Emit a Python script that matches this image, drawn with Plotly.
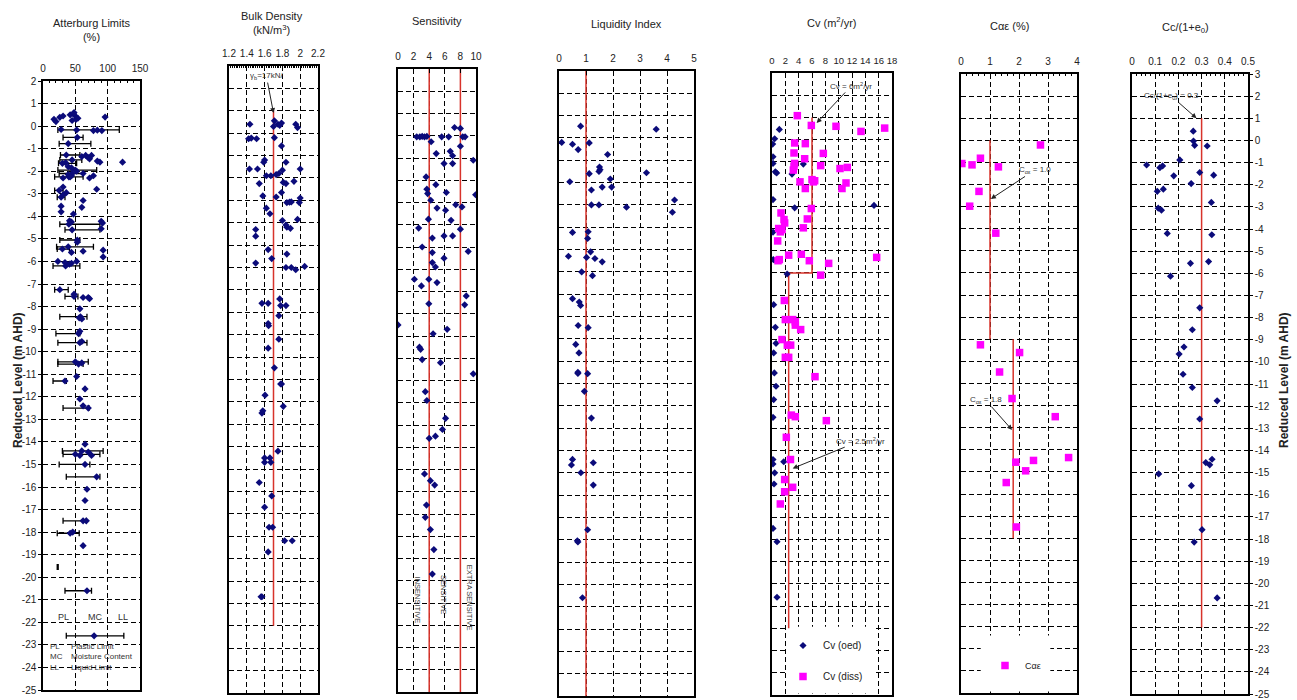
import plotly.graph_objects as go

# ---------------- data ----------------
# Atterberg limits: moisture content points without PL-LL range
at_depth = [0.2, 0.3, 0.39, 0.45, 0.5, 0.55, 0.45, 0.35, 0.25, 0.3, 0.6, 0.4,
            -0.15, -0.2, -0.18, -0.2,
            -1.35, -1.3, -1.3, -1.4, -1.45, -1.6, -1.55, -1.6, -1.62,
            -1.8, -1.85, -2.0, -2.1, -2.2, -2.3, -2.2, -2.15, -2.3, -2.25,
            -2.8, -2.7, -2.95, -3.05, -3.3, -3.6, -3.55, -3.8, -3.9,
            -4.2, -4.25, -4.22, -4.3, -4.55,
            -5.15, -5.5, -5.55, -5.6, -5.8,
            -6.0, -6.05, -6.08, -6.0, -6.12,
            -7.6, -7.6, -7.65, -7.45,
            -8.1, -8.5, -8.55, -9.1, -9.55,
            -10.5, -11.1, -11.65, -12.1, -12.4,
            -14.1, -14.45, -14.6, -14.6,
            -16.1, -16.6, -17.5, -18.0, -18.6]
at_mc = [20, 17, 26, 31, 42, 47, 50, 54, 45, 51, 48, 96,
         28, 78, 84, 91,
         60, 66, 75, 70, 72, 88, 84, 123, 35,
         39, 44, 52, 62, 78, 72, 44, 39, 31, 42,
         83, 31, 36, 31, 62, 60, 28, 28, 47,
         41, 44, 90, 92, 90,
         53, 93, 62, 44, 93,
         23, 34, 44, 52, 41,
         62, 70, 72, 48,
         57, 56, 60, 57, 60,
         60, 52, 65, 57, 62,
         65, 70, 75, 57,
         68, 65, 67, 46, 62]
# Atterberg limits with PL - LL range
atb_depth = [-0.17, -0.5, -0.78, -1.28, -1.5, -1.65, -1.95, -2.1, -2.25, -2.85, -3.15,
             -4.35, -4.6, -5.05, -5.35, -5.45, -6.2, -7.25, -7.55, -8.45, -9.2, -9.6,
             -10.45, -10.55, -11.3, -12.5, -14.4, -14.55, -15.0, -15.55, -17.5, -18.05, -20.6]
atb_pl = [23, 31, 25, 27, 26, 24, 23, 25, 18, 18, 22,
          26, 34, 26, 21, 22, 15.5, 18, 34, 26, 20, 23,
          23, 23, 15.5, 31, 30, 31, 25, 36, 31, 22, 34]
atb_mc = [52, 53, 39, 36, 45, 30, 50, 45, 40, 25, 28,
          40, 45, 53, 39, 30, 35, 26, 48, 58, 55, 57,
          50, 55, 34, 70, 60, 50, 65, 83, 62, 42, 68]
atb_ll = [118, 62, 74, 57, 60, 52, 83, 62, 62, 31, 34,
          88, 88, 57, 78, 41, 57, 39, 54, 68, 57, 68,
          70, 62, 36, 71, 93, 88, 72.5, 88, 67, 56, 75]
# range without moisture content
atr_depth = [-19.55]
atr_pl = [22]
atr_ll = [23.5]
key_depth = [-22.6]
key_pl = [36]
key_mc = [79]
key_ll = [125]

# Bulk density
bd_depth = [0.40, 0.55, 0.3, 0.4, 0.45, 0.35, 0.4, 0.25,
            -0.25, -0.22, -0.25, -0.2, -0.57,
            -1.2, -1.3, -1.3, -1.6, -1.6, -1.6,
            -1.9, -1.9, -1.85, -1.65, -1.8,
            -2.25, -2.2, -2.25, -2.15,
            -2.8, -2.85, -2.65, -2.9, -3.1, -3.1, -3.08, -3.07,
            -3.35, -3.6, -3.9, -4.2, -4.25, -4.1, -3.85, -4.3, -4.6,
            -5.2, -5.6, -5.4, -5.8, -6.0, -6.0, -6.1, -5.95,
            -7.6, -7.6, -7.4, -7.7, -7.7, -8.15, -8.5, -8.6, -9.2, -9.6,
            -10.48, -11.2, -11.2, -11.7, -12.2, -12.5, -12.4,
            -14.2, -14.5, -14.5, -14.7, -14.7,
            -15.6, -16.2, -16.7, -17.6, -17.6, -18.2, -18.2, -18.7, -20.7, -20.7]
bd_val = [1.435, 1.71, 1.70, 1.75, 1.79, 1.77, 1.95, 1.97,
          1.42, 1.45, 1.51, 1.71, 1.79,
          1.60, 1.59, 1.84, 1.43, 1.52, 2.0,
          1.62, 1.67, 1.73, 1.80, 1.76,
          1.54, 1.81, 1.84, 1.93,
          1.58, 1.73, 1.79, 2.0, 1.99, 1.85, 1.88, 1.9,
          1.62, 1.66, 1.8, 1.85, 1.89, 1.84, 1.97, 1.5, 1.5,
          1.64, 1.68, 1.85, 1.5, 1.84, 1.9, 1.95, 2.05,
          1.57, 1.64, 1.77, 1.78, 1.84, 1.76, 1.64, 1.645, 1.76, 1.64,
          1.71, 1.78, 1.79, 1.605, 1.81, 1.57, 1.58,
          1.75, 1.6, 1.66, 1.67, 1.6,
          1.54, 1.68, 1.6, 1.65, 1.69, 1.825, 1.91, 1.64, 1.56, 1.57]
bd_ref_x = [1.7, 1.7]
bd_ref_y = [1, -22]

# Sensitivity
st_depth = [0.37, 0.33, -0.05, -0.05, -0.03, -0.05, -0.03, -0.27, -0.05, -0.05, -0.05, -0.05,
            -0.47, -0.8, -0.7, -0.9, -1.25, -1.25, -1.1, -1.85, -2.2, -2.4, -2.6, -2.55,
            -2.65, -2.9, -3.25, -3.35, -3.1, -3.2, -3.75, -3.8, -4.15, -4.2, -4.6, -4.5,
            -4.5, -5.0, -5.2, -5.25, -5.5, -5.7, -5.9, -6.45, -6.75, -6.45, -6.6, -7.2,
            -7.6, -7.55, -8.5, -8.7, -8.9, -9.5, -9.6,
            -10.06, -10.2, -10.7, -11.5, -11.9, -12.7, -13.2, -13.5, -13.6,
            -15.2, -15.5, -15.7, -16.6, -17.15, -17.7, -18.6, -19.7]
st_val = [7.25, 8.0, 2.4, 2.8, 3.1, 3.4, 3.7, 4.25, 5.6, 6.5, 8.3, 8.6,
          8.0, 4.9, 6.7, 7.0, 5.9, 7.0, 9.65, 3.6, 4.85, 3.7, 3.8, 6.2,
          9.95, 4.2, 5.0, 6.1, 7.4, 8.2, 3.9, 6.8, 2.65, 8.0, 4.4, 5.9,
          7.0, 3.1, 9.0, 4.4, 5.9, 4.4, 4.8, 2.1, 3.0, 3.95, 5.0, 8.75,
          8.55, 3.95, 0.0, 6.3, 4.5, 2.75, 2.9,
          3.1, 5.45, 9.65, 3.5, 3.7, 6.1, 5.7, 4.8, 4.0,
          3.4, 4.15, 4.7, 3.65, 3.5, 4.15, 4.6, 4.4]
st_lines = [4, 8]
st_labels = ["INSENSITIVE", "SENSITIVE", "EXTRA SENSITIVE"]
st_label_x = [2.45, 5.9, 9.2]
st_label_y = [-20.85, -20.6, -20.75]

# Liquidity index
li_depth = [0.53, 0.39, -0.2, -0.28, -0.22, -0.52, -0.74, -1.3, -1.42, -1.5, -1.6, -1.56,
            -1.96, -1.84, -2.33, -2.2, -2.2, -3.0, -3.0, -3.1, -2.78, -3.33,
            -4.23, -4.2, -4.5, -5.3, -5.1, -5.35, -5.4, -5.55, -6.0, -6.17,
            -7.2, -7.35, -7.5, -8.4, -8.5, -9.25,
            -9.63, -10.5, -10.55, -10.56, -11.35, -12.55, -14.4, -14.65, -14.55, -15.0,
            -15.55, -17.55, -18.05, -18.1, -20.6]
li_val = [0.8, 3.6, 0.1, 0.5, 1.12, 0.71, 1.8, 1.5, 1.52, 1.48, 1.12, 3.24,
          0.4, 1.9, 1.2, 1.6, 1.95, 1.2, 1.48, 2.5, 4.28, 4.2,
          0.5, 1.08, 1.06, 0.35, 1.17, 1.02, 1.33, 1.6, 0.84, 1.24,
          0.5, 0.75, 0.8, 0.71, 1.08, 0.62,
          0.74, 0.7, 0.7, 1.06, 0.94, 1.2, 0.5, 0.46, 1.27, 0.81,
          1.27, 1.06, 0.68, 0.7, 0.87]
li_line_x = [1, 1]

# Cv oedometer
cvo_depth = [0.46, 0.04, -0.2, -0.77, -1.07, -1.45, -1.5, -1.1, -1.55, -2.7, -3.07, -2.96,
             -4.16, -5.4, -5.45, -6.05, -7.43, -8.45, -9.17,
             -9.6, -10.5, -11.1, -11.7, -12.5, -14.4, -14.6, -14.5, -15.0, -15.5,
             -17.5, -18.1, -20.6]
cvo_val = [1.1, 0.4, 0.1, 0.15, 0.15, 0.5, 0.7, 4.7, 3.0, 0.15, 3.4, 15.3,
           0.15, 0.2, 0.6, 2.27, 0.25, 0.5, 0.6,
           0.25, 0.35, 0.6, 0.25, 0.15, 0.15, 0.15, 1.76, 0.4, 0.3,
           0.15, 0.75, 0.75]
# Cv dissipation
cvd_depth = [1.08, 0.64, 0.6, 0.52, 0.37, -0.15, -0.18, -0.6, -0.62, -0.86,
             -1.07, -1.2, -1.37, -1.17, -1.3, -1.25, -1.9, -1.8, -1.85, -1.9,
             -2.2, -1.95, -2.2, -3.1, -3.3, -3.6, -3.75, -3.57, -4.0, -4.05, -4.15,
             -3.97, -4.56, -5.2, -5.4, -5.45, -5.16, -5.45, -5.57, -5.3, -6.1,
             -7.24, -8.1, -8.1, -8.2, -8.55, -8.35, -9.0, -9.25, -9.25,
             -9.8, -9.8, -10.67, -12.4, -12.47, -12.65, -13.4, -14.4, -15.3, -15.65,
             -15.85, -16.4]
cvd_val = [3.8, 5.9, 9.6, 16.9, 13.35, 3.4, 5.0, 3.3, 7.7, 4.9,
           3.4, 3.3, 3.2, 7.3, 10.2, 11.3, 4.2, 6.0, 6.4, 6.2,
           5.0, 11.1, 10.5, 5.9, 1.35, 1.8, 1.9, 5.3, 1.0, 1.5, 1.25,
           4.7, 0.85, 2.5, 1.1, 0.9, 4.4, 5.6, 8.5, 15.7, 7.3,
           1.85, 2.0, 3.1, 3.5, 4.3, 3.5, 1.5, 2.3, 2.8,
           2.0, 2.5, 6.45, 2.9, 3.5, 8.15, 2.15, 2.77, 1.9, 3.1,
           1.9, 1.25]
cv_line_x = [6, 6, 2.5, 2.5]
cv_line_y = [1, -6, -6, -22]

# C-alpha-epsilon
cae_depth = [-0.21, -0.81, -1.05, -1.11, -1.2, -2.31, -2.98, -4.2, -9.25,
             -9.6, -10.48, -11.68, -12.5, -14.56, -14.48, -14.35, -14.95, -15.48, -17.49]
cae_val = [2.74, 0.67, 0.03, 0.38, 1.29, 0.62, 0.3, 1.2, 0.67,
           2.02, 1.33, 1.76, 3.25, 1.89, 2.5, 3.71, 2.23, 1.56, 1.91]
cae_line1_x = [1, 1]
cae_line1_y = [0, -9]
cae_line2_x = [1.8, 1.8]
cae_line2_y = [-9, -18]

# Cc/(1+e0)
cc_depth = [0.42, -0.03, -0.22, -0.25, -1.11, -1.23, -1.15, -0.88, -1.45, -1.57, -1.6, -1.95,
            -2.3, -2.2, -2.8, -3.06, -3.15, -4.2, -4.26, -5.55, -5.47, -6.13, -7.56, -8.55,
            -9.33, -9.65, -10.56, -11.16, -11.76, -12.58, -14.55, -14.65, -14.4, -15.06,
            -15.59, -17.58, -18.14, -20.66]
cc_val = [0.264, 0.265, 0.27, 0.324, 0.063, 0.12, 0.132, 0.206, 0.292, 0.352, 0.18, 0.255,
          0.109, 0.135, 0.342, 0.113, 0.127, 0.152, 0.344, 0.252, 0.33, 0.166, 0.292, 0.26,
          0.224, 0.203, 0.22, 0.26, 0.367, 0.292, 0.318, 0.335, 0.345, 0.115,
          0.256, 0.302, 0.268, 0.367]
cc_line_x = [0.3, 0.3]
cc_line_y = [1, -22]

# axis labelling
panel_titles = ["Atterburg Limits<br>(%)", "Bulk Density<br>(kN/m<sup>3</sup>)", "Sensitivity",
                "Liquidity Index", "Cv (m<sup>2</sup>/yr)", "Cαε (%)", "Cc/(1+e<sub>0</sub>)"]
xranges = [[0, 150], [1.2, 2.2], [0, 10], [0, 5], [0, 18], [0, 4], [0, 0.5]]
xdticks = [50, 0.2, 2, 1, 2, 1, 0.1]
xminor = [10, 0.02, None, None, None, 0.2, 0.02]
yranges = [[-25, 2]] + [[-25, 3]] * 6
ytitle = "Reduced Level (m AHD)"

# ---------------- styling / geometry ----------------
FONT = "Liberation Sans, Arial, sans-serif"
NAVY = "#0b0b7a"
MAG = "#ff00ff"
RED = "#d8332b"
W, H = 1297, 700
boxes = [(43, 140, 81, 690), (229, 318, 66, 693), (398, 476, 69, 692), (559, 694, 71, 696),
         (772, 892, 73, 695), (961, 1077, 74, 693), (1132, 1248, 74, 694)]
title_pos = [(92, 30), (272, 23), (437, 21), (626, 24), (832, 22), (1009, 26), (1185, 28)]
xtick_size = [10, 10, 10, 10, 9.5, 10, 10]

fig = go.Figure()


def ax(i):
    return ('x' if i == 0 else 'x%d' % (i + 1)), ('y' if i == 0 else 'y%d' % (i + 1))


diamond = dict(symbol='diamond', size=5.5, color=NAVY)
square = dict(symbol='square', size=7.5, color=MAG)
redline = dict(color=RED, width=1.5)
ebar = dict(color='black', thickness=1.3, width=3)

# Panel 1
xa, ya = ax(0)
fig.add_trace(go.Scatter(x=atr_pl, y=atr_depth, mode='markers', marker=dict(size=1, opacity=0),
                         xaxis=xa, yaxis=ya, showlegend=False,
                         error_x=dict(type='data', symmetric=False,
                                      array=[l - p for l, p in zip(atr_ll, atr_pl)],
                                      arrayminus=[0] * len(atr_pl), **ebar)))
fig.add_trace(go.Scatter(x=atb_mc, y=atb_depth, mode='markers', marker=diamond, xaxis=xa, yaxis=ya,
                         showlegend=False,
                         error_x=dict(type='data', symmetric=False,
                                      array=[l - m for l, m in zip(atb_ll, atb_mc)],
                                      arrayminus=[m - p for m, p in zip(atb_mc, atb_pl)], **ebar)))
fig.add_trace(go.Scatter(x=at_mc, y=at_depth, mode='markers', marker=diamond, xaxis=xa, yaxis=ya,
                         showlegend=False))
fig.add_trace(go.Scatter(x=key_mc, y=key_depth, mode='markers', marker=diamond, xaxis=xa, yaxis=ya,
                         showlegend=False,
                         error_x=dict(type='data', symmetric=False,
                                      array=[l - m for l, m in zip(key_ll, key_mc)],
                                      arrayminus=[m - p for m, p in zip(key_mc, key_pl)], **ebar)))

# Panel 2
xa, ya = ax(1)
fig.add_trace(go.Scatter(x=bd_ref_x, y=bd_ref_y, mode='lines', line=redline,
                         xaxis=xa, yaxis=ya, showlegend=False))
fig.add_trace(go.Scatter(x=bd_val, y=bd_depth, mode='markers', marker=diamond, xaxis=xa, yaxis=ya,
                         showlegend=False))

# Panel 3
xa, ya = ax(2)
for v in st_lines:
    fig.add_trace(go.Scatter(x=[v, v], y=yranges[2], mode='lines', line=redline,
                             xaxis=xa, yaxis=ya, showlegend=False))
fig.add_trace(go.Scatter(x=st_val, y=st_depth, mode='markers', marker=diamond, xaxis=xa, yaxis=ya,
                         showlegend=False))

# Panel 4
xa, ya = ax(3)
fig.add_trace(go.Scatter(x=li_line_x, y=yranges[3], mode='lines', line=redline,
                         xaxis=xa, yaxis=ya, showlegend=False))
fig.add_trace(go.Scatter(x=li_val, y=li_depth, mode='markers', marker=diamond, xaxis=xa, yaxis=ya,
                         showlegend=False))

# Panel 5
xa, ya = ax(4)
fig.add_trace(go.Scatter(x=cv_line_x, y=cv_line_y, mode='lines', line=redline,
                         xaxis=xa, yaxis=ya, showlegend=False))
fig.add_trace(go.Scatter(x=cvo_val, y=cvo_depth, mode='markers', marker=diamond, xaxis=xa, yaxis=ya,
                         name='Cv (oed)', legend='legend', legendgroup='oed', showlegend=True))
fig.add_trace(go.Scatter(x=cvd_val, y=cvd_depth, mode='markers', marker=square, xaxis=xa, yaxis=ya,
                         name='Cv (diss)', legend='legend', legendgroup='diss', showlegend=True))

# Panel 6
xa, ya = ax(5)
fig.add_trace(go.Scatter(x=cae_line1_x, y=cae_line1_y, mode='lines', line=redline,
                         xaxis=xa, yaxis=ya, showlegend=False))
fig.add_trace(go.Scatter(x=cae_line2_x, y=cae_line2_y, mode='lines', line=redline,
                         xaxis=xa, yaxis=ya, showlegend=False))
fig.add_trace(go.Scatter(x=cae_val, y=cae_depth, mode='markers', marker=square, xaxis=xa, yaxis=ya,
                         name='Cαε', legend='legend2', showlegend=True))

# Panel 7
xa, ya = ax(6)
fig.add_trace(go.Scatter(x=cc_line_x, y=cc_line_y, mode='lines', line=redline,
                         xaxis=xa, yaxis=ya, showlegend=False))
fig.add_trace(go.Scatter(x=cc_val, y=cc_depth, mode='markers', marker=diamond, xaxis=xa, yaxis=ya,
                         showlegend=False))

layout = {}
for i in range(7):
    n = '' if i == 0 else str(i + 1)
    x0, x1, yt, yb = boxes[i]
    tickfont = dict(size=xtick_size[i], color='#222', family=FONT)
    xd = dict(domain=[x0 / W, x1 / W], range=xranges[i], side='top', anchor='y' + n,
              showline=True, mirror=True, linecolor='black', linewidth=1.5,
              showgrid=True, gridcolor='black', gridwidth=1.1, griddash='5px,3px',
              zeroline=False, tick0=xranges[i][0], dtick=xdticks[i], tickangle=0,
              ticks='inside', ticklen=4, tickcolor='black', tickfont=tickfont,
              ticklabelstandoff=3, automargin=False, fixedrange=True)
    if xminor[i]:
        xd['minor'] = dict(ticks='inside', ticklen=2, dtick=xminor[i], tick0=xranges[i][0],
                           tickcolor='black', showgrid=False)
    y0, y1 = yranges[i]
    yd = dict(domain=[1 - yb / H, 1 - yt / H], range=yranges[i], anchor='x' + n,
              showline=True, mirror=True, linecolor='black', linewidth=1.5,
              showgrid=True, gridcolor='black', gridwidth=1.1, griddash='5px,3px',
              zeroline=False, tickvals=list(range(y0, y1 + 1)),
              ticktext=[str(v) for v in range(y0, y1 + 1)], automargin=False, fixedrange=True)
    yfont = dict(size=10, color='#222', family=FONT)
    if i == 0:
        yd.update(side='left', ticks='outside', ticklen=3, tickcolor='black', tickfont=yfont,
                  showticklabels=True)
    elif i == 6:
        yd.update(side='right', ticks='outside', ticklen=3, tickcolor='black', tickfont=yfont,
                  showticklabels=True)
    else:
        yd.update(showticklabels=False, ticks='')
    layout['xaxis' + n] = xd
    layout['yaxis' + n] = yd

annotations = []
for (px, py), t in zip(title_pos, panel_titles):
    annotations.append(dict(text=t, x=px / W, y=1 - py / H, xref='paper', yref='paper',
                            showarrow=False, xanchor='center', yanchor='middle',
                            font=dict(size=11, color='#222', family=FONT)))
for px in (18, 1284):
    annotations.append(dict(text='<b>' + ytitle + '</b>', x=px / W, y=1 - 380 / H, xref='paper',
                            yref='paper', showarrow=False, textangle=-90,
                            xanchor='center', yanchor='middle',
                            font=dict(size=12, color='#222', family=FONT)))

small = dict(size=8, color='#333', family=FONT)
# Atterberg key
for t, xv in zip(["PL", "MC", "LL"], [31, 80, 124]):
    annotations.append(dict(text=t, x=xv, y=-21.75, xref='x', yref='y', showarrow=False,
                            xanchor='center', yanchor='middle',
                            font=dict(size=9, color='#333', family=FONT)))
annotations.append(dict(text="PL<br>MC<br>LL", x=8, y=-23.55, xref='x', yref='y', showarrow=False,
                        xanchor='left', yanchor='middle', align='left', font=small))
annotations.append(dict(text="Plastic Limit<br>Moisture Content<br>Liquid Limit", x=40, y=-23.55,
                        xref='x', yref='y', showarrow=False, xanchor='left', yanchor='middle',
                        align='left', font=small))
# sensitivity class labels
for t, xv, yv in zip(st_labels, st_label_x, st_label_y):
    annotations.append(dict(text=t, x=xv, y=yv, xref='x3', yref='y3', showarrow=False,
                            xanchor='center', yanchor='middle',
                            textangle=90, font=dict(size=7.5, color='#444', family=FONT)))


def callout(text, tx, ty, hx, hy, xr, yr):
    annotations.append(dict(text=text, x=hx, y=hy, ax=tx, ay=ty, xref=xr, yref=yr, axref=xr, ayref=yr,
                            showarrow=True, arrowhead=2, arrowsize=1, arrowwidth=1, arrowcolor='#222',
                            font=small))


callout("γ<sub>b</sub>=17kN/", 1.62, 2.55, 1.70, 0.9, 'x2', 'y2')
callout("Cv = 6m<sup>2</sup>/yr", 11.9, 2.42, 6.7, 0.75, 'x5', 'y5')
callout("Cv = 2.5m<sup>2</sup>/yr", 13.3, -13.55, 3.1, -14.8, 'x5', 'y5')
callout("C<sub>αε</sub> = 1.0", 2.55, -1.34, 1.03, -2.65, 'x6', 'y6')
callout("C<sub>αε</sub> = 1.8", 0.85, -11.75, 1.76, -13.1, 'x6', 'y6')
callout("Cc/(1+e<sub>0</sub>) = 0.3", 0.17, 2.0, 0.278, 1.0, 'x7', 'y7')

shapes = [
    dict(type='rect', xref='x5', yref='y5', x0=2.35, x1=15.3, y0=-21.93, y1=-24.93,
         fillcolor='white', line=dict(width=0), layer='between'),
    dict(type='rect', xref='x6', yref='y6', x0=0.68, x1=3.08, y0=-22.4, y1=-24.93,
         fillcolor='white', line=dict(width=0), layer='between'),
]

fig.update_layout(
    width=W, height=H, autosize=False,
    margin=dict(l=0, r=0, t=0, b=0, pad=0),
    paper_bgcolor='white', plot_bgcolor='white',
    font=dict(family=FONT, color='#222'),
    annotations=annotations, shapes=shapes,
    legend=dict(x=783 / W, y=1 - 631 / H, xanchor='left', yanchor='top', bgcolor='rgba(0,0,0,0)',
                font=dict(size=10, family=FONT, color='#222'), tracegroupgap=12),
    legend2=dict(x=985 / W, y=1 - 651 / H, xanchor='left', yanchor='top', bgcolor='rgba(0,0,0,0)',
                 font=dict(size=9, family=FONT, color='#222')),
    **layout,
)

fig.write_html("out.html", config={'displayModeBar': False},
               post_script="document.body.style.margin='0';document.body.style.padding='0';"
                           "document.documentElement.style.overflow='hidden';")
